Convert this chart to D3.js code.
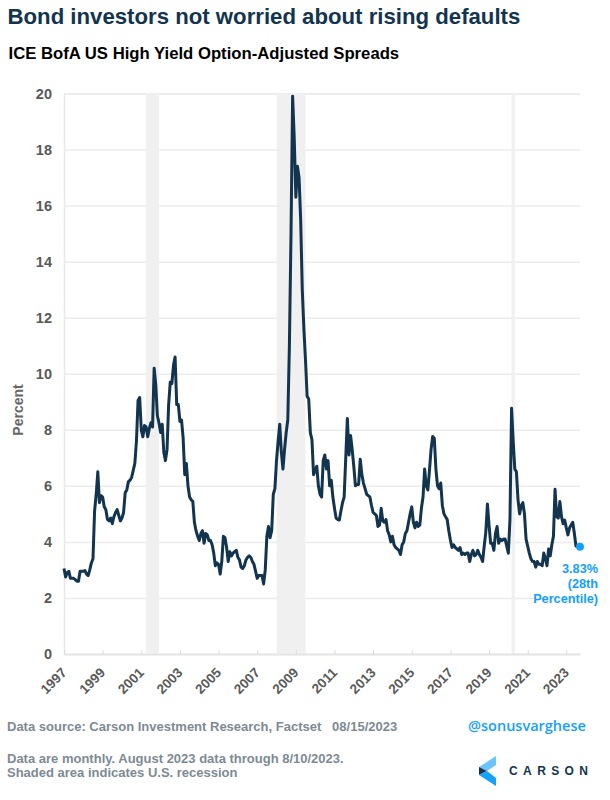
<!DOCTYPE html>
<html>
<head>
<meta charset="utf-8">
<script src="https://cdn.jsdelivr.net/npm/d3@7"></script>
<style>
    html, body { margin: 0; padding: 0; background: #fff; }
    text { font-family: "Liberation Sans", Arial, sans-serif; }
</style>
</head>
<body>
<div id="chart"></div>
<script>
// Monthly spreads, one row per year, starting January 1997
const spreads = {
    1997: [3.05, 2.75, 2.9, 2.95, 2.7, 2.7, 2.7, 2.65, 2.6, 2.6, 2.95, 2.95],
    1998: [2.95, 2.98, 2.85, 2.8, 3.0, 3.25, 3.4, 5.1, 5.7, 6.5, 5.4, 5.65],
    1999: [5.6, 5.25, 5.15, 4.8, 4.75, 4.85, 4.65, 4.9, 5.05, 5.15, 4.95, 4.75],
    2000: [4.85, 5.05, 5.75, 5.85, 6.15, 6.2, 6.3, 6.55, 6.8, 7.6, 9.05, 9.15],
    2001: [8.0, 7.75, 8.15, 8.1, 7.75, 8.05, 8.25, 8.1, 10.2, 9.6, 8.5, 8.25],
    2002: [7.9, 8.2, 7.2, 6.9, 7.3, 8.9, 9.7, 9.65, 10.3, 10.6, 8.9, 8.9],
    2003: [8.3, 8.35, 7.7, 6.4, 6.8, 6.0, 5.6, 5.5, 5.45, 4.7, 4.4, 4.2],
    2004: [4.05, 4.3, 4.4, 3.95, 4.3, 4.25, 4.05, 4.05, 3.9, 3.6, 3.15, 3.25],
    2005: [3.2, 2.85, 3.3, 4.2, 4.15, 3.8, 3.3, 3.65, 3.5, 3.6, 3.65, 3.7],
    2006: [3.45, 3.35, 3.1, 3.05, 3.15, 3.35, 3.45, 3.5, 3.45, 3.3, 3.2, 2.95],
    2007: [2.7, 2.8, 2.8, 2.8, 2.5, 3.0, 4.2, 4.55, 4.15, 4.4, 5.7, 5.9],
    2008: [6.9, 7.6, 8.2, 7.2, 6.6, 7.3, 7.9, 8.35, 11.0, 15.0, 19.9, 18.4],
    2009: [16.3, 17.4, 17.0, 15.5, 13.0, 11.6, 10.5, 9.2, 9.1, 7.9, 7.65, 6.4],
    2010: [6.55, 6.7, 6.0, 5.7, 5.6, 6.9, 7.1, 6.6, 6.9, 6.0, 6.2, 5.6],
    2011: [5.2, 4.85, 4.8, 4.78, 5.1, 5.4, 5.6, 7.0, 8.4, 7.1, 7.8, 7.3],
    2012: [6.7, 6.0, 6.05, 6.05, 6.95, 6.4, 6.1, 5.9, 5.7, 5.65, 5.6, 5.3],
    2013: [5.05, 5.0, 4.95, 4.55, 4.6, 5.2, 4.75, 4.7, 4.8, 4.4, 4.25, 4.0],
    2014: [4.2, 3.9, 3.8, 3.75, 3.7, 3.55, 3.9, 4.0, 4.3, 4.4, 4.7, 5.0],
    2015: [5.25, 4.7, 4.5, 4.7, 4.55, 4.6, 5.2, 5.6, 6.6, 6.0, 5.85, 6.55],
    2016: [7.3, 7.76, 7.7, 6.6, 6.0, 5.9, 6.1, 5.3, 5.0, 4.9, 4.8, 4.4],
    2017: [4.07, 3.8, 3.9, 3.8, 3.75, 3.7, 3.8, 3.55, 3.6, 3.55, 3.6, 3.6],
    2018: [3.3, 3.55, 3.7, 3.5, 3.55, 3.7, 3.55, 3.45, 3.3, 3.85, 4.35, 5.35],
    2019: [4.6, 3.95, 3.95, 3.7, 4.3, 4.55, 3.95, 4.1, 4.05, 4.1, 4.1, 3.85],
    2020: [3.6, 4.8, 8.77, 7.6, 6.6, 6.5, 5.5, 5.0, 5.3, 5.4, 5.0, 4.1],
    2021: [3.85, 3.6, 3.4, 3.3, 3.3, 3.1, 3.3, 3.2, 3.2, 3.15, 3.6, 3.4],
    2022: [3.15, 3.75, 3.5, 3.9, 4.2, 5.88, 4.9, 4.85, 5.44, 4.9, 4.65, 4.78],
    2023: [4.5, 4.25, 4.5, 4.6, 4.7, 4.3, 3.85, 3.83]
};

// Flatten into month index / value pairs
const data = [];
Object.keys(spreads).forEach(year => {
    spreads[year].forEach(value => {
        data.push({ index: data.length, value });
    });
});

// Recessions as month index ranges
const recessions = [[51, 59], [132, 150], [278, 280]];

// Where the latest value is marked, just past the end of the line
const latest = { index: 320.5, value: 3.83 };

const width = 610, height = 800;
const margin = { top: 93.5, right: 30, bottom: 146, left: 64 };
const navy = "#12344f", blue = "#14a0ff";

const svg = d3.select("#chart").append("svg")
    .attr("width", width)
    .attr("height", height)
    .style("display", "block");

const x = d3.scaleLinear()
    .domain([0, 320.5])
    .range([margin.left, width - margin.right]);

const y = d3.scaleLinear()
    .domain([0, 20])
    .range([height - margin.bottom, margin.top]);

// Titles
svg.append("text")
    .attr("x", 7.5).attr("y", 24)
    .attr("font-size", 22.2).attr("font-weight", 700)
    .attr("fill", navy)
    .text("Bond investors not worried about rising defaults");

svg.append("text")
    .attr("x", 8.5).attr("y", 58.5)
    .attr("font-size", 16.7).attr("font-weight", 700)
    .attr("fill", "#000")
    .text("ICE BofA US High Yield Option-Adjusted Spreads");

// Gridlines and y axis
const yAxis = svg.append("g")
    .attr("transform", `translate(${margin.left},0)`)
    .call(d3.axisLeft(y).tickValues(d3.range(0, 21, 2))
        .tickSize(-(width - margin.right - margin.left)).tickPadding(12));
yAxis.select(".domain").attr("stroke", "#e8e8e8").attr("stroke-width", 1.5);
yAxis.selectAll(".tick line").attr("stroke", "#ececec").attr("stroke-width", 1.5);
yAxis.selectAll("text")
    .attr("font-size", 14.5).attr("font-weight", 700)
    .attr("font-family", "Liberation Sans")
    .attr("fill", "#595959");

// Recession shading goes over the gridlines
svg.selectAll(".recession")
    .data(recessions)
    .enter().append("rect")
    .attr("class", "recession")
    .attr("x", d => x(d[0]))
    .attr("y", y(20))
    .attr("width", d => x(d[1]) - x(d[0]))
    .attr("height", y(0) - y(20))
    .attr("fill", "#f0f0f0");

// X axis with ticks pointing up into the plot
const yearTicks = d3.range(1997, 2024, 2);
const xAxis = svg.append("g")
    .attr("transform", `translate(0,${y(0)})`)
    .call(d3.axisBottom(x)
        .tickValues(yearTicks.map(yr => (yr - 1997) * 12))
        .tickFormat(d => 1997 + d / 12)
        .tickSizeInner(-4).tickSizeOuter(0));
xAxis.select(".domain").attr("stroke", "#e4e4e4").attr("stroke-width", 1.5);
xAxis.selectAll(".tick line").attr("stroke", "#dcdcdc").attr("stroke-width", 1);
xAxis.selectAll("text")
    .attr("font-size", 13.5).attr("font-weight", 700)
    .attr("font-family", "Liberation Sans")
    .attr("fill", "#595959")
    .attr("text-anchor", "end")
    .attr("x", 0).attr("y", 0).attr("dy", 0)
    .attr("transform", "translate(3,19.5) rotate(-45)");

svg.append("text")
    .attr("transform", "translate(23,410) rotate(-90)")
    .attr("text-anchor", "middle")
    .attr("font-size", 14).attr("font-weight", 700)
    .attr("fill", "#666")
    .text("Percent");

// Spread line
const line = d3.line()
    .x(d => x(d.index))
    .y(d => y(d.value));

svg.append("path")
    .datum(data)
    .attr("fill", "none")
    .attr("stroke", navy)
    .attr("stroke-width", 3)
    .attr("stroke-linejoin", "round")
    .attr("d", line);

// Latest value marker and label
svg.append("circle")
    .attr("cx", x(latest.index))
    .attr("cy", y(latest.value))
    .attr("r", 4)
    .attr("fill", blue);

["3.83%", "(28th", "Percentile)"].forEach((label, i) => {
    svg.append("text")
        .attr("x", 598).attr("y", 573 + i * 15)
        .attr("text-anchor", "end")
        .attr("font-size", 12.7).attr("font-weight", 700)
        .attr("fill", blue)
        .text(label);
});

// Footer
const footer = [
    ["Data source: Carson Investment Research, Factset   08/15/2023", 7, 731],
    ["Data are monthly. August 2023 data through 8/10/2023.", 7, 763],
    ["Shaded area indicates U.S. recession", 7, 777]
];
footer.forEach(([label, fx, fy]) => {
    svg.append("text")
        .attr("x", fx).attr("y", fy)
        .style("white-space", "pre")
        .attr("font-size", 13).attr("font-weight", 700)
        .attr("fill", "#7d8a94")
        .text(label);
});

svg.append("text")
    .attr("x", 468).attr("y", 731)
    .attr("font-size", 14.5).attr("font-weight", 600)
    .style("font-family", "'Open Sans'")
    .attr("fill", blue)
    .text("@sonusvarghese");

// Carson logo
const logo = svg.append("g");
logo.append("path").attr("d", "M479 767 L496 756 L496 765 L487 771 Z").attr("fill", "#6cc4ff");
logo.append("path").attr("d", "M479 767 L487 771 L479 775 Z").attr("fill", navy);
logo.append("path").attr("d", "M479 775 L487 771 L496 778 L496 786 Z").attr("fill", blue);

svg.append("text")
    .attr("x", 509).attr("y", 775)
    .attr("font-size", 12).attr("font-weight", 700)
    .attr("letter-spacing", 5.4)
    .attr("fill", navy)
    .text("CARSON");
</script>
</body>
</html>
